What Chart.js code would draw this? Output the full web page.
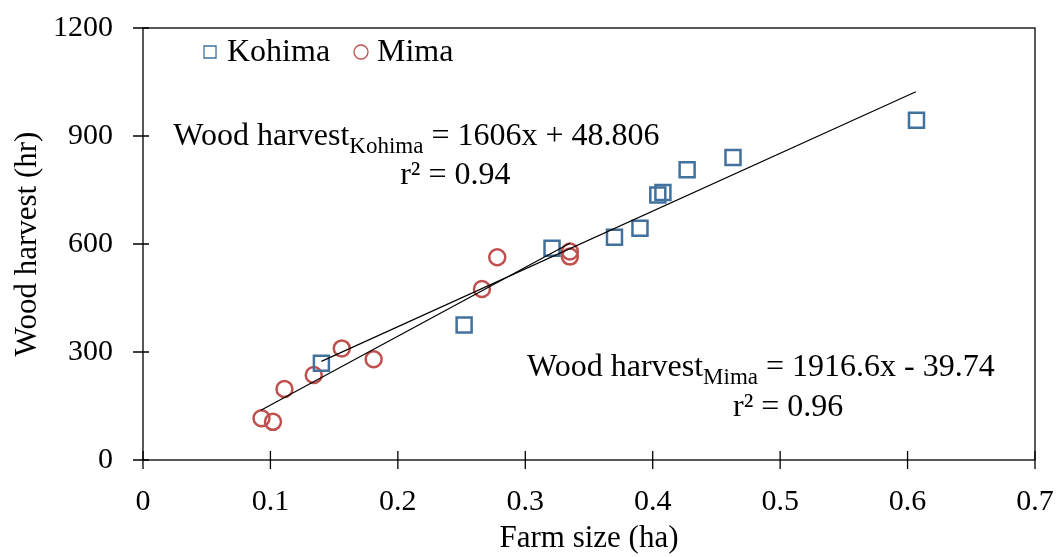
<!DOCTYPE html>
<html>
<head>
<meta charset="utf-8">
<script src="https://cdn.jsdelivr.net/npm/chart.js@4.4.0/dist/chart.umd.min.js"></script>
<style>
  html, body { margin: 0; padding: 0; background: #fff; }
  #wrap { width: 1056px; height: 557px; }
</style>
</head>
<body>
<div id="wrap"><canvas id="woodChart"></canvas></div>
<script>
// data
const kohimaFarm = [0.140, 0.252, 0.321, 0.370, 0.390, 0.404, 0.408, 0.427, 0.463, 0.607];
const kohimaWood = [269, 375, 588, 619, 644, 736, 743, 806, 840, 944];
const mimaFarm = [0.093, 0.102, 0.111, 0.134, 0.156, 0.181, 0.266, 0.278, 0.335, 0.335];
const mimaWood = [116, 106, 197, 236, 310, 280, 475, 563, 579, 565];

// trend line end points
const kohimaFitX = [0.140, 0.6065];
const kohimaFitY = [274, 1023];
const mimaFitX = [0.0925, 0.335];
const mimaFitY = [138, 602];

const xTickLabels = ["0", "0.1", "0.2", "0.3", "0.4", "0.5", "0.6", "0.7"];
const yTickLabels = ["0", "300", "600", "900", "1200"];

const blue = "#41719c";
const red = "#c0504d";
const serif = "'Liberation Serif', 'Times New Roman', serif";

function toPoints(xs, ys) {
  return xs.map((x, i) => ({ x: x, y: ys[i] }));
}

function drawRich(ctx, parts, x, y) {
  let cx = x;
  parts.forEach((p) => {
    ctx.font = (p.sub ? "23px " : "32px ") + serif;
    ctx.fillText(p.text, cx, p.sub ? y + 8 : y);
    cx += ctx.measureText(p.text).width;
  });
}

const framePlugin = {
  id: "framePlugin",
  afterDraw(chart) {
    const ctx = chart.ctx;
    const area = chart.chartArea;
    const xs = chart.scales.x;
    const ys = chart.scales.y;
    ctx.save();
    ctx.strokeStyle = "#000";
    ctx.lineWidth = 1.3;
    ctx.strokeRect(area.left, area.top, area.right - area.left, area.bottom - area.top);

    // ticks crossing the axes
    ctx.beginPath();
    xs.ticks.forEach((t) => {
      const px = xs.getPixelForValue(t.value);
      ctx.moveTo(px, area.bottom - 9);
      ctx.lineTo(px, area.bottom + 9);
    });
    ys.ticks.forEach((t) => {
      const py = ys.getPixelForValue(t.value);
      ctx.moveTo(area.left - 10, py);
      ctx.lineTo(area.left + 6, py);
    });
    ctx.stroke();

    // legend inside plot
    ctx.fillStyle = "#fff";
    ctx.strokeStyle = blue;
    Chart.helpers.drawPoint(ctx, { pointStyle: "rect", radius: 8.5, borderWidth: 1.5 }, area.left + 67, area.top + 24);
    ctx.strokeStyle = red;
    Chart.helpers.drawPoint(ctx, { pointStyle: "circle", radius: 7, borderWidth: 1.5 }, area.left + 218, area.top + 24);
    ctx.fillStyle = "#000";
    ctx.textBaseline = "alphabetic";
    ctx.font = "32px " + serif;
    ctx.fillText("Kohima", area.left + 84, area.top + 33);
    ctx.fillText("Mima", area.left + 234, area.top + 33);

    // regression equations
    drawRich(ctx, [
      { text: "Wood harvest" },
      { text: "Kohima", sub: true },
      { text: " = 1606x + 48.806" }
    ], xs.getPixelForValue(0.0238), ys.getPixelForValue(875));
    drawRich(ctx, [{ text: "r² = 0.94" }], xs.getPixelForValue(0.2018), ys.getPixelForValue(767));
    drawRich(ctx, [
      { text: "Wood harvest" },
      { text: "Mima", sub: true },
      { text: " = 1916.6x - 39.74" }
    ], xs.getPixelForValue(0.3014), ys.getPixelForValue(233));
    drawRich(ctx, [{ text: "r² = 0.96" }], xs.getPixelForValue(0.463), ys.getPixelForValue(122));
    ctx.restore();
  }
};

new Chart(document.getElementById("woodChart"), {
  type: "scatter",
  data: {
    datasets: [
      {
        label: "Kohima trend",
        data: toPoints(kohimaFitX, kohimaFitY),
        showLine: true,
        borderColor: "#000",
        borderWidth: 1.2,
        pointRadius: 0
      },
      {
        label: "Mima trend",
        data: toPoints(mimaFitX, mimaFitY),
        showLine: true,
        borderColor: "#000",
        borderWidth: 1.2,
        pointRadius: 0
      },
      {
        label: "Kohima",
        data: toPoints(kohimaFarm, kohimaWood),
        pointStyle: "rect",
        pointRadius: 10.6,
        pointBorderWidth: 2.5,
        borderColor: blue,
        backgroundColor: "rgba(0,0,0,0)"
      },
      {
        label: "Mima",
        data: toPoints(mimaFarm, mimaWood),
        pointStyle: "circle",
        pointRadius: 8,
        pointBorderWidth: 2.5,
        borderColor: red,
        backgroundColor: "rgba(0,0,0,0)"
      }
    ]
  },
  options: {
    responsive: true,
    maintainAspectRatio: false,
    animation: false,
    layout: { padding: { top: 28, right: 21, left: 0, bottom: 0 } },
    plugins: {
      legend: { display: false },
      tooltip: { enabled: false }
    },
    scales: {
      x: {
        type: "linear",
        min: 0,
        max: 0.7,
        afterFit: (scale) => {
          scale.height = 97;
          scale.paddingLeft = 0;
          scale.paddingRight = 0;
        },
        grid: { display: false, drawTicks: false },
        border: { display: false },
        ticks: {
          stepSize: 0.1,
          autoSkip: false,
          maxRotation: 0,
          padding: 24,
          color: "#000",
          font: { family: serif, size: 30 },
          callback: (v, i) => xTickLabels[i]
        },
        title: {
          display: true,
          text: "Farm size (ha)",
          color: "#000",
          font: { family: serif, size: 31 },
          padding: { top: 4, bottom: 0 }
        }
      },
      y: {
        min: 0,
        max: 1200,
        afterFit: (scale) => {
          scale.width = 143;
          scale.paddingTop = 0;
          scale.paddingBottom = 0;
        },
        grid: { display: false, drawTicks: false },
        border: { display: false },
        ticks: {
          stepSize: 300,
          padding: 30,
          color: "#000",
          font: { family: serif, size: 30 },
          callback: (v, i) => yTickLabels[i]
        },
        title: {
          display: true,
          text: "Wood harvest (hr)",
          color: "#000",
          font: { family: serif, size: 31 },
          padding: { top: 9, bottom: 0 }
        }
      }
    }
  },
  plugins: [framePlugin]
});
</script>
</body>
</html>
